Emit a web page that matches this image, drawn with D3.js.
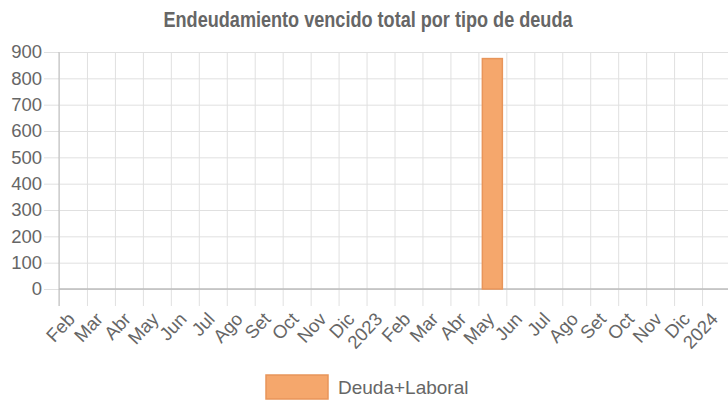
<!DOCTYPE html>
<html>
<head>
<meta charset="utf-8">
<script src="https://cdn.jsdelivr.net/npm/d3@7"></script>
<style>
    body { margin: 0; background: #fff; }
    svg { display: block; }
</style>
</head>
<body>
<div id="chart"></div>
<script>
// Data
const monthLabels = ['Feb', 'Mar', 'Abr', 'May', 'Jun', 'Jul', 'Ago', 'Set', 'Oct', 'Nov', 'Dic', '2023',
    'Feb', 'Mar', 'Abr', 'May', 'Jun', 'Jul', 'Ago', 'Set', 'Oct', 'Nov', 'Dic', '2024'];
const yTicks = [0, 100, 200, 300, 400, 500, 600, 700, 800, 900];
const seriesName = 'Deuda+Laboral';
// month index (0 = Feb 2022) and value
const barMonths = [15];
const barValues = [875];

const chartTitle = 'Endeudamiento vencido total por tipo de deuda';

// Dimensions
let dimensions = {
    width: 728,
    height: 402,
    margin: { top: 52, bottom: 113, left: 59, right: -2 },
};
dimensions.ctrWidth = dimensions.width - dimensions.margin.left - dimensions.margin.right;
dimensions.ctrHeight = dimensions.height - dimensions.margin.top - dimensions.margin.bottom;

const fontFamily = '"Liberation Sans", Arial, sans-serif';
const textColor = '#666';
const gridColor = '#e0e0e0';
const axisColor = '#bdbdbd';
const barFill = '#f5a76c';
const barStroke = '#e8955a';

const svg = d3.select('#chart')
    .append('svg')
    .attr('width', dimensions.width)
    .attr('height', dimensions.height)
    .style('font-family', fontFamily);

const ctr = svg.append('g')
    .attr('transform', `translate(${dimensions.margin.left}, ${dimensions.margin.top})`);

// Scales
const xScale = d3.scaleLinear()
    .domain([0, monthLabels.length])
    .range([0, dimensions.ctrWidth]);

const yScale = d3.scaleLinear()
    .domain([0, 900])
    .range([dimensions.ctrHeight, 0]);

// Grid: horizontal
const yAxis = d3.axisLeft(yScale)
    .tickValues(yTicks)
    .tickSize(-dimensions.ctrWidth - 15)
    .tickPadding(2)
    .tickFormat(d3.format('d'));

const yAxisGroup = ctr.append('g')
    .attr('transform', 'translate(-15, 0)')
    .call(yAxis);
yAxisGroup.select('.domain').remove();
yAxisGroup.selectAll('line').attr('stroke', gridColor);
yAxisGroup.selectAll('text')
    .attr('fill', textColor)
    .style('font-size', '18.5px')
    .style('font-family', fontFamily);

// Grid: vertical
const xAxis = d3.axisBottom(xScale)
    .tickValues(d3.range(monthLabels.length))
    .tickSize(-dimensions.ctrHeight)
    .tickFormat('');

const xGridGroup = ctr.append('g')
    .attr('transform', `translate(0, ${dimensions.ctrHeight})`)
    .call(xAxis);
xGridGroup.select('.domain').remove();
xGridGroup.selectAll('line')
    .attr('stroke', gridColor)
    .attr('y2', -dimensions.ctrHeight)
    .attr('y1', 17);

// Axis lines
ctr.append('line')
    .attr('x1', 0).attr('x2', 0)
    .attr('y1', 0).attr('y2', dimensions.ctrHeight + 17)
    .attr('stroke', axisColor);
ctr.append('line')
    .attr('x1', 0).attr('x2', dimensions.ctrWidth)
    .attr('y1', dimensions.ctrHeight).attr('y2', dimensions.ctrHeight)
    .attr('stroke', axisColor)
    .attr('stroke-width', 1.5);

// X labels
ctr.append('g')
    .selectAll('text')
    .data(monthLabels)
    .join('text')
    .attr('transform', (d, i) => `translate(${xScale(i) + 17}, ${dimensions.ctrHeight + 31}) rotate(-47)`)
    .attr('text-anchor', 'end')
    .attr('fill', textColor)
    .style('font-size', '18.5px')
    .text(d => d);

// Bars
const barWidth = 20;
ctr.append('g')
    .selectAll('rect')
    .data(barValues)
    .join('rect')
    .attr('x', (d, i) => xScale(barMonths[i] + 0.5) - barWidth / 2)
    .attr('y', d => yScale(d))
    .attr('width', barWidth)
    .attr('height', d => dimensions.ctrHeight - yScale(d))
    .attr('fill', barFill)
    .attr('stroke', barStroke)
    .attr('stroke-width', 1.5);

// Title
svg.append('text')
    .attr('x', 368)
    .attr('y', 27)
    .attr('text-anchor', 'middle')
    .attr('fill', textColor)
    .attr('textLength', 409)
    .attr('lengthAdjust', 'spacingAndGlyphs')
    .style('font-family', '"Liberation Sans Narrow", "Liberation Sans", sans-serif')
    .style('font-weight', 'bold')
    .style('font-size', '22px')
    .text(chartTitle);

// Legend
const legend = svg.append('g').attr('transform', 'translate(266, 375)');
legend.append('rect')
    .attr('width', 62)
    .attr('height', 24)
    .attr('fill', barFill)
    .attr('stroke', barStroke)
    .attr('stroke-width', 1.5);
legend.append('text')
    .attr('x', 72)
    .attr('y', 12)
    .attr('dy', '0.35em')
    .attr('fill', textColor)
    .style('font-size', '19px')
    .text(seriesName);
</script>
</body>
</html>
